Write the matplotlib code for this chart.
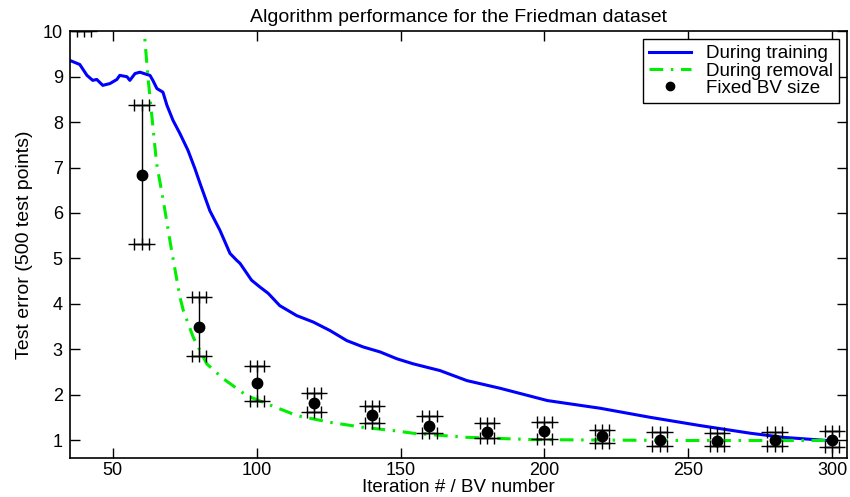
import matplotlib.pyplot as plt

plt.rcParams['font.family'] = ['Liberation Sans', 'DejaVu Sans']

# During training (blue curve)
train_x = [35, 38.5, 41, 43, 44.4, 46.5, 49, 51.4, 52.4, 54.9, 55.9, 57.7, 59.4,
           61.8, 62.9, 63.9, 65.3, 67.4, 68.8, 70.9, 73.3, 76.1, 78.5, 80.3, 83.7, 87.2,
           90.7, 93, 94.2, 98.2, 101.1, 104, 108, 113.9, 119.6, 125.5, 131.3, 137,
           142.9, 148.7, 154.3, 163.7, 173, 184.6, 201, 219.4, 236.8, 254, 271.6,
           283, 298.3, 300]
train_y = [9.36, 9.27, 9.03, 8.92, 8.94, 8.81, 8.85, 8.94, 9.03, 9.00, 8.92, 9.07, 9.10,
           9.05, 9.03, 8.92, 8.74, 8.66, 8.37, 8.04, 7.75, 7.38, 6.98, 6.65, 6.05, 5.62,
           5.11, 4.96, 4.89, 4.52, 4.37, 4.23, 3.96, 3.74, 3.60, 3.41, 3.19, 3.05,
           2.94, 2.79, 2.68, 2.53, 2.31, 2.14, 1.87, 1.70, 1.50, 1.32, 1.15,
           1.06, 0.99, 0.98]

# During removal (green dash-dot curve)
rem_x = [60.5, 62.2, 65.2, 67.5, 70.4, 73.3, 74.5, 77.9, 82.6, 88.4, 96.5, 103.5,
         113.9, 125.5, 137, 148.7, 154.3, 173, 196, 220, 250, 280, 300]
rem_y = [10.3, 8.99, 7.09, 6.28, 5.18, 4.15, 3.85, 3.27, 2.68, 2.35, 1.98, 1.80,
         1.54, 1.39, 1.28, 1.20, 1.15, 1.06, 1.01, 1.00, 0.99, 0.99, 0.99]

# Fixed BV size: mean and error bar ends
fix_x = [40, 60, 80, 100, 120, 140, 160, 180, 200, 220, 240, 260, 280, 300]
fix_mean = [11.5, 6.83, 3.50, 2.25, 1.81, 1.56, 1.32, 1.17, 1.19, 1.08, 1.01, 0.99, 1.01, 1.01]
fix_low = [10.0, 5.31, 2.86, 1.85, 1.61, 1.37, 1.15, 1.04, 1.02, 0.93, 0.88, 0.86, 0.86, 0.84]
fix_high = [13.0, 8.37, 4.16, 2.62, 2.03, 1.76, 1.52, 1.37, 1.39, 1.23, 1.17, 1.15, 1.17, 1.19]

fig = plt.figure(figsize=(8.5, 4.97), dpi=100)
ax = fig.add_axes([0.082, 0.078, 0.914, 0.859])

ax.plot(train_x, train_y, color='#0000ff', lw=2.2, label='During training')
ax.plot(rem_x, rem_y, color='#00ee00', lw=2.2, dashes=(4.5, 2.5, 0.8, 2.5),
        label='During removal')

# error bars with "+++" caps
cap = 2.5
for x, lo, hi in zip(fix_x, fix_low, fix_high):
    ax.plot([x, x], [lo, hi], color='black', lw=1)
    for yc in (lo, hi):
        ax.plot([x - cap, x, x + cap], [yc, yc, yc], color='black', lw=1,
                marker='+', ms=8, mew=1)

ax.plot(fix_x, fix_mean, 'o', color='black', ms=7.5, linestyle='none', label='Fixed BV size')

ax.set_xlim(35, 305)
ax.set_ylim(0.6, 10)
ax.set_xticks([50, 100, 150, 200, 250, 300])
ax.set_yticks(range(1, 11))
ax.tick_params(direction='in', top=True, right=True, length=7, labelsize=13, width=1, pad=3)
ax.tick_params(axis='y', pad=5)
for s in ax.spines.values():
    s.set_linewidth(1.2)

ax.set_xlabel('Iteration # / BV number', fontsize=13.5, labelpad=0)
ax.set_ylabel('Test error (500 test points)', fontsize=14, labelpad=7)
ax.set_title('Algorithm performance for the Friedman dataset', fontsize=14, pad=7)

leg = ax.legend(loc='upper right', fontsize=13.5, fancybox=False, framealpha=1,
                edgecolor='black', borderaxespad=0.4, handlelength=2.2,
                handletextpad=0.8, labelspacing=0.0, borderpad=0.35, markerscale=0.8)
leg.get_frame().set_linewidth(1)

plt.savefig('out.png', dpi=100)
